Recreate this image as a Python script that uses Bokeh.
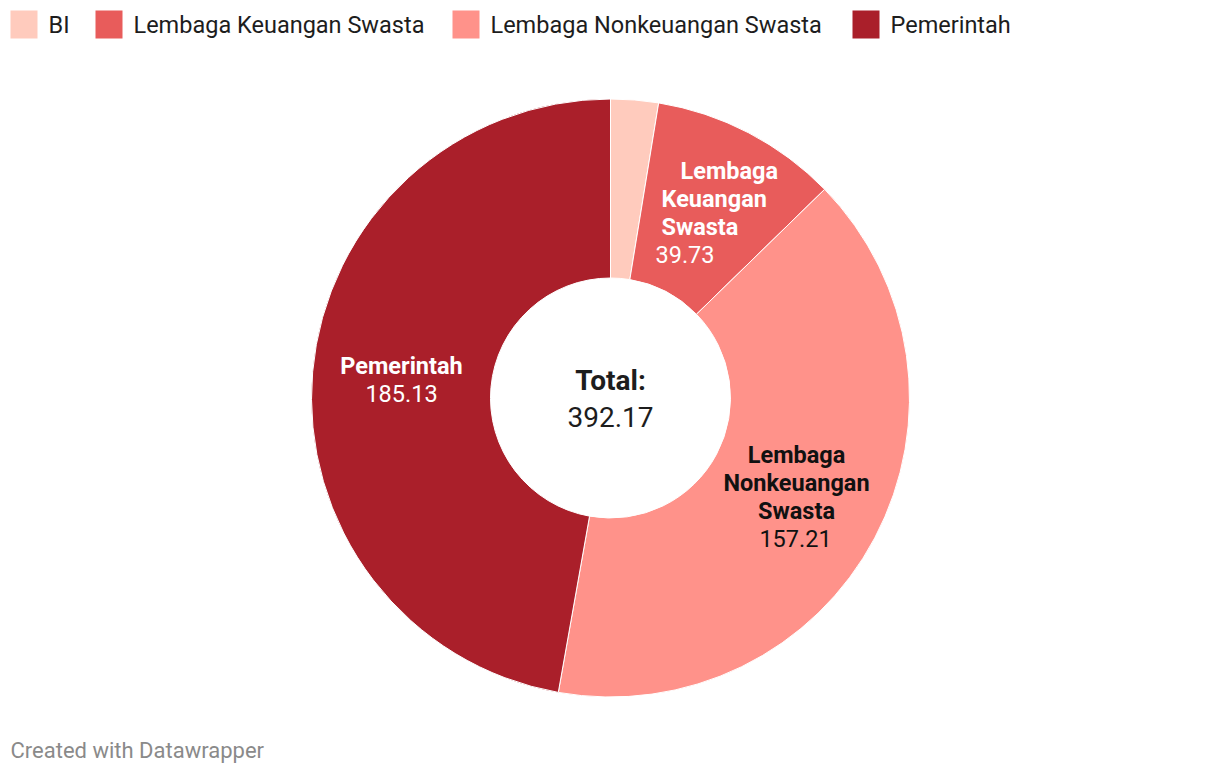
import numpy as np
from bokeh.plotting import figure
from bokeh.models import Range1d, ColumnDataSource
from bokeh.core.properties import value
from bokeh.embed import file_html
from bokeh.resources import INLINE

categories = ["BI", "Lembaga Keuangan Swasta", "Lembaga Nonkeuangan Swasta", "Pemerintah"]
values = [10.10, 39.73, 157.21, 185.13]
colors = ["#ffcbbd", "#e85c5b", "#ff928a", "#aa1f2a"]
total_label = "392.17"

W, H = 1220, 774
FONT = value("Roboto")

p = figure(width=W, height=H, x_range=Range1d(0, W), y_range=Range1d(0, H),
           output_backend="svg", toolbar_location=None, min_border=0)
p.axis.visible = False
p.grid.visible = False
p.outline_line_color = None
p.background_fill_color = "white"
p.border_fill_color = "white"

def Y(py):
    return H - py

cx, cy = 610, Y(397.5)
r_out, r_in = 299, 120

vals = np.array(values)
tot = vals.sum()
cum = np.concatenate([[0], np.cumsum(vals)])
start = np.pi / 2 - cum[:-1] / tot * 2 * np.pi
end = np.pi / 2 - cum[1:] / tot * 2 * np.pi

src = ColumnDataSource(dict(start=start, end=end, color=colors, cat=categories))
p.annular_wedge(x=cx, y=cy, inner_radius=r_in, outer_radius=r_out,
                start_angle="start", end_angle="end", direction="clock",
                fill_color="color", line_color="white", line_width=1, source=src)

# Legend
leg_sq_x = [10, 95, 452, 852]
for i, cat in enumerate(categories):
    p.quad(left=leg_sq_x[i], right=leg_sq_x[i] + 27, top=Y(10), bottom=Y(38),
           fill_color=colors[i], line_color=None)
    p.text(x=[leg_sq_x[i] + 38], y=[Y(24)], text=[cat], text_font=FONT,
           text_font_size="23.5px", text_color="#1d1d1d",
           text_align="left", text_baseline="middle")

def label(x, y, txt, bold, color, size="23.5px", align="center"):
    p.text(x=[x], y=[Y(y)], text=[txt], text_font=FONT, text_font_size=size,
           text_font_style="bold" if bold else "normal", text_color=color,
           text_align=align, text_baseline="middle")

# Pemerintah label
label(401, 365, "Pemerintah", True, "white")
label(401, 393, f"{values[3]:.2f}", False, "white")

# Lembaga Keuangan Swasta label
label(680, 170, "Lembaga", True, "white", align="left")
label(661, 198, "Keuangan", True, "white", align="left")
label(661, 226, "Swasta", True, "white", align="left")
label(655, 254, f"{values[1]:.2f}", False, "white", align="left")

# Lembaga Nonkeuangan Swasta label
label(796, 454, "Lembaga", True, "#111111")
label(796, 482, "Nonkeuangan", True, "#111111")
label(796, 510, "Swasta", True, "#111111")
label(795, 538, f"{values[2]:.2f}", False, "#111111")

# Total
label(610, 380, "Total:", True, "#1d1d1d", size="28px")
label(610, 416, total_label, False, "#1d1d1d", size="28px")

# Footer
p.text(x=[10], y=[Y(750)], text=["Created with Datawrapper"], text_font=FONT,
       text_font_size="22px", text_color="#8a8a8a", text_align="left",
       text_baseline="middle")

open("out.html", "w").write(file_html(p, INLINE))
